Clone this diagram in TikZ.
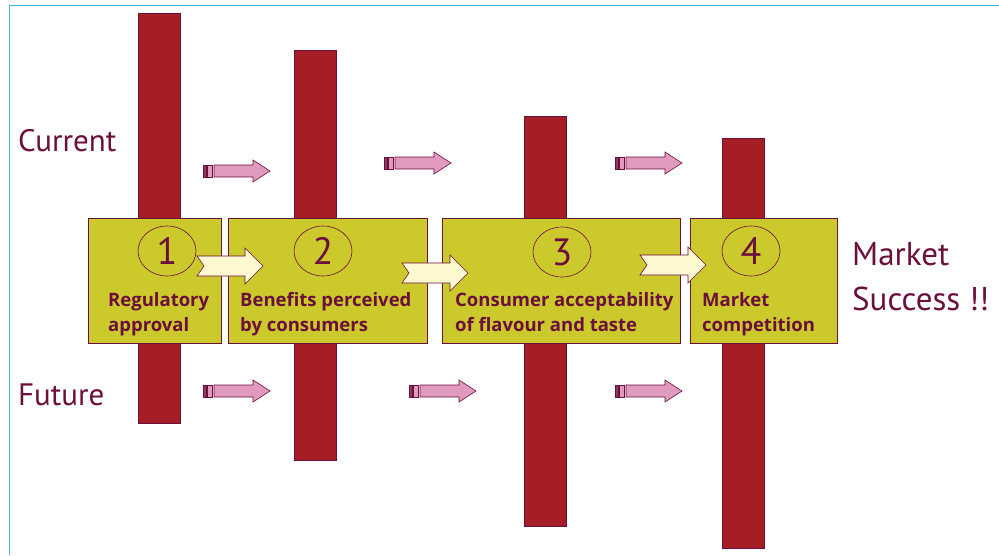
\documentclass[tikz,border=0pt]{standalone}
\usepackage{fontspec}
\setmainfont{PT Sans}
\newfontfamily\stagefont{Open Sans}
\usetikzlibrary{shapes.geometric}
\definecolor{wine}{HTML}{6B0F3C}
\definecolor{barred}{HTML}{A51D25}
\definecolor{olive}{HTML}{CBC92B}
\definecolor{cream}{HTML}{FEF8D0}
\definecolor{pinky}{HTML}{DF9ABD}
\definecolor{frameblue}{HTML}{3FB6EA}
\tikzset{
  bar/.style={draw=wine, fill=barred, line width=0.8pt, minimum width=42pt, minimum height=410pt, inner sep=0pt, anchor=north},
  stage/.style={draw=wine, fill=olive, line width=0.8pt, minimum height=125pt, inner sep=0pt, anchor=north west},
  stagenum/.style={draw=wine, ellipse, line width=0.6pt, minimum width=58pt, minimum height=50pt, inner sep=0pt, text=wine, font=\fontsize{38}{40}\selectfont},
  stagetext/.style={text=wine, align=left, anchor=north west, inner sep=0pt, font=\stagefont\bfseries\fontsize{18.5}{25}\selectfont},
  rowlabel/.style={text=wine, anchor=base west, inner sep=0pt, font=\fontsize{31}{40}\selectfont},
  pics/bigarrow/.style={code={
    \draw[draw=wine, fill=cream, line width=0.6pt] (0,-10) -- (7,0) -- (0,10) -- (48,10) -- (48,18) -- (66,0) -- (48,-18) -- (48,-10) -- cycle;}},
  pics/smallarrow/.style={code={
    \draw[draw=wine, fill=wine!70!pinky, line width=0.5pt] (0,-6) rectangle (3,6);
    \draw[draw=wine, fill=pinky, line width=0.5pt] (4,-6) rectangle (9,6);
    \draw[draw=wine, fill=pinky, line width=0.6pt] (11,-6) -- (50,-6) -- (50,-11) -- (67,0) -- (50,11) -- (50,6) -- (11,6) -- cycle;}}
}
\begin{document}
\begin{tikzpicture}[x=1pt, y=-1pt]
\useasboundingbox (0,0) rectangle (999,555);
\draw[frameblue, line width=1pt] (9.5,555) -- (9.5,5.5) -- (999,5.5);

\node[bar] (bar1) at (159,13) {};
\node[bar] (bar2) at (315,50) {};
\node[bar] (bar3) at (545,116) {};
\node[bar] (bar4) at (743,138) {};

\pic at (203,171) {smallarrow};
\pic at (384,163) {smallarrow};
\pic at (615,163) {smallarrow};
\pic at (203,391) {smallarrow};
\pic at (409,391) {smallarrow};
\pic at (615,391) {smallarrow};

\node[stage, minimum width=133pt] (box1) at (88,218) {};
\node[stage, minimum width=199pt] (box2) at (228,218) {};
\node[stage, minimum width=238pt] (box3) at (442,218) {};
\node[stage, minimum width=147pt] (box4) at (690,218) {};

\node[stagenum] (num1) at (167,251) {1};
\node[stagenum] (num2) at (323,251) {2};
\node[stagenum] (num3) at (562,252) {3};
\node[stagenum] (num4) at (751,251) {4};

\pic at (197,266) {bigarrow};
\pic at (402,273) {bigarrow};
\pic at (640,265) {bigarrow};

\node[stagetext] (txt1) at (108,292) {Regulatory\\approval};
\node[stagetext] (txt2) at (240,292) {Benefits perceived\\by consumers};
\node[stagetext] (txt3) at (455,292) {Consumer acceptability\\of flavour and taste};
\node[stagetext] (txt4) at (702,292) {Market\\competition};

\node[rowlabel] (current) at (18,151) {Current};
\node[rowlabel] (future) at (18,405) {Future};
\node[rowlabel, font=\fontsize{33}{40}\selectfont] (market) at (852,265) {Market};
\node[rowlabel, font=\fontsize{33}{40}\selectfont] (success) at (852,310) {Success !!};
\end{tikzpicture}
\end{document}
